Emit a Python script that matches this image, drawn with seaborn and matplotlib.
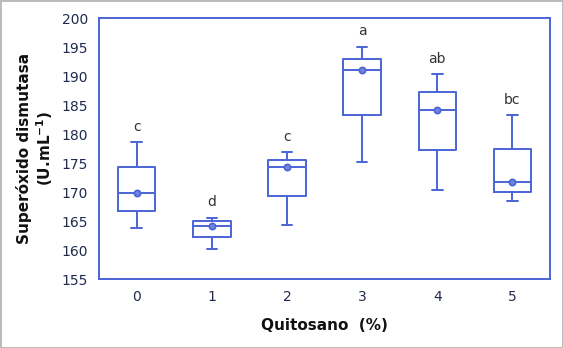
import matplotlib
matplotlib.use("Agg")
import matplotlib.pyplot as plt
import seaborn as sns
import pandas as pd
import numpy as np

# Data: per group [whisker low, Q1, median, Q3, whisker high]
categories = ["0", "1", "2", "3", "4", "5"]
g0 = [163.8, 166.7, 169.8, 174.4, 178.7]
g1 = [160.2, 162.2, 164.1, 165.0, 165.6]
g2 = [164.3, 169.3, 174.4, 175.6, 176.9]
g3 = [175.2, 183.3, 191.1, 193.0, 195.1]
g4 = [170.4, 177.2, 184.1, 187.2, 190.3]
g5 = [168.4, 170.0, 171.7, 177.4, 183.3]
letters = ["c", "d", "c", "a", "ab", "bc"]
yticks = [155, 160, 165, 170, 175, 180, 185, 190, 195, 200]

groups = [g0, g1, g2, g3, g4, g5]
df = pd.DataFrame({
    "Quitosano": np.repeat(categories, [len(g) for g in groups]),
    "SOD": np.concatenate(groups),
})
medians = [g[2] for g in groups]
tops = [g[4] for g in groups]

blue = "#4a64d6"
sns.set_theme(style="white")
plt.rcParams["font.family"] = ["DejaVu Sans"]

fig = plt.figure(figsize=(5.63, 3.48), dpi=100)
ax = fig.add_axes([0.176, 0.198, 0.801, 0.750])

sns.boxplot(data=df, x="Quitosano", y="SOD", order=categories, ax=ax,
            whis=np.inf, width=0.5, fill=False, color=blue, linewidth=1.4,
            boxprops=dict(color=blue), whiskerprops=dict(color=blue),
            capprops=dict(color=blue), medianprops=dict(color=blue),
            showcaps=True)
# shrink caps
for line in ax.lines:
    xd = line.get_xdata()
    yd = line.get_ydata()
    if len(xd) == 2 and yd[0] == yd[1] and abs(xd[1] - xd[0]) < 0.3 and abs(xd[1]-xd[0]) > 0.01:
        c = (xd[0] + xd[1]) / 2
        line.set_xdata([c - 0.07, c + 0.07])

sns.stripplot(x=categories, y=medians, order=categories, jitter=False, ax=ax,
              color="#6f85dd", edgecolor=blue, linewidth=1.2, size=4.5, zorder=5)

for i, (t, lab) in enumerate(zip(tops, letters)):
    ax.text(i, t + 1.4, lab, ha="center", va="bottom", fontsize=10, color="#333333")

ax.set_ylim(155, 200)
ax.set_xlim(-0.5, 5.5)
ax.set_yticks(yticks)
ax.tick_params(axis="both", labelsize=10, colors="#1f2a4d", length=0, pad=8)
ax.set_xlabel("Quitosano  (%)", fontsize=11, fontweight="bold", color="#111111", labelpad=10)
ax.set_ylabel("Superóxido dismutasa\n(U.mL$^{\\mathbf{-1}}$)", fontsize=11, fontweight="bold",
              color="#111111", labelpad=5, linespacing=1.1)
for s in ax.spines.values():
    s.set_color(blue)
    s.set_linewidth(1.4)

fig.patch.set_edgecolor("#bbbbbb")
fig.patch.set_linewidth(2)
fig.savefig("out.png", dpi=100, facecolor="white", edgecolor=fig.get_edgecolor())
